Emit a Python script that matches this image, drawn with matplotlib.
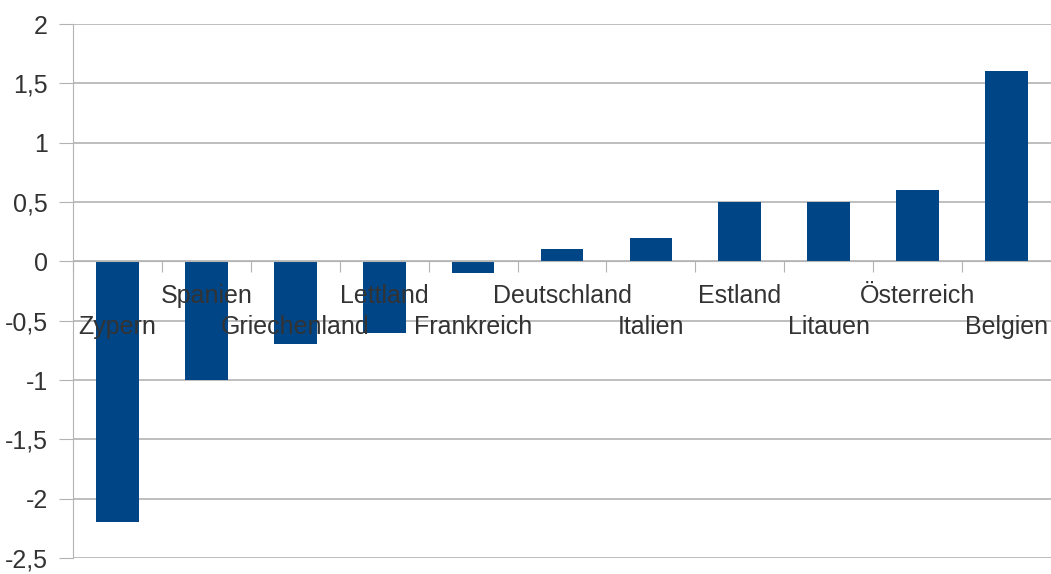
import numpy as np
import matplotlib.pyplot as plt

countries = ["Zypern", "Spanien", "Griechenland", "Lettland", "Frankreich",
             "Deutschland", "Italien", "Estland", "Litauen", "Österreich", "Belgien"]
values = [-2.2, -1.0, -0.7, -0.6, -0.1, 0.1, 0.2, 0.5, 0.5, 0.6, 1.6]
yticks = [-2.5, -2, -1.5, -1, -0.5, 0, 0.5, 1, 1.5, 2]

plt.rcParams['font.family'] = ['Liberation Sans', 'DejaVu Sans']

fig = plt.figure(figsize=(10.51, 5.74), dpi=100)
ax = fig.add_axes([73 / 1051, 1 - 558 / 574, (1051 - 73) / 1051, (558 - 24) / 574])

x = np.arange(len(countries))
ax.bar(x, values, width=0.48, color="#004586", zorder=2)

ax.set_xlim(-0.5, len(countries) - 0.5)
ax.set_ylim(-2.5, 2)
ax.set_yticks(yticks)
ax.set_yticklabels([f"{v:g}".replace(".", ",") for v in yticks], fontsize=18, color="#333333")
ax.yaxis.grid(True, color="#b3b3b3", linewidth=1.2, zorder=0)
ax.tick_params(axis='y', length=10, color="#b3b3b3", pad=8)

# category axis sits on the zero line
ax.spines['bottom'].set_position(('data', 0))
ax.spines['bottom'].set_color("#b3b3b3")
ax.spines['left'].set_color("#b3b3b3")
ax.spines['top'].set_visible(False)
ax.spines['right'].set_visible(False)
ax.set_xticks(np.arange(len(countries) + 1) - 0.5)
ax.set_xticklabels([])
ax.tick_params(axis='x', length=8, color="#b3b3b3", direction='out')

for i, name in enumerate(countries):
    off = -66 if i % 2 == 0 else -35
    ax.annotate(name, xy=(i, 0), xytext=(0, off), textcoords='offset pixels',
                ha='center', va='center', fontsize=18, color="#333333", zorder=5,
                annotation_clip=False)

fig.savefig("out.png", dpi=100)
